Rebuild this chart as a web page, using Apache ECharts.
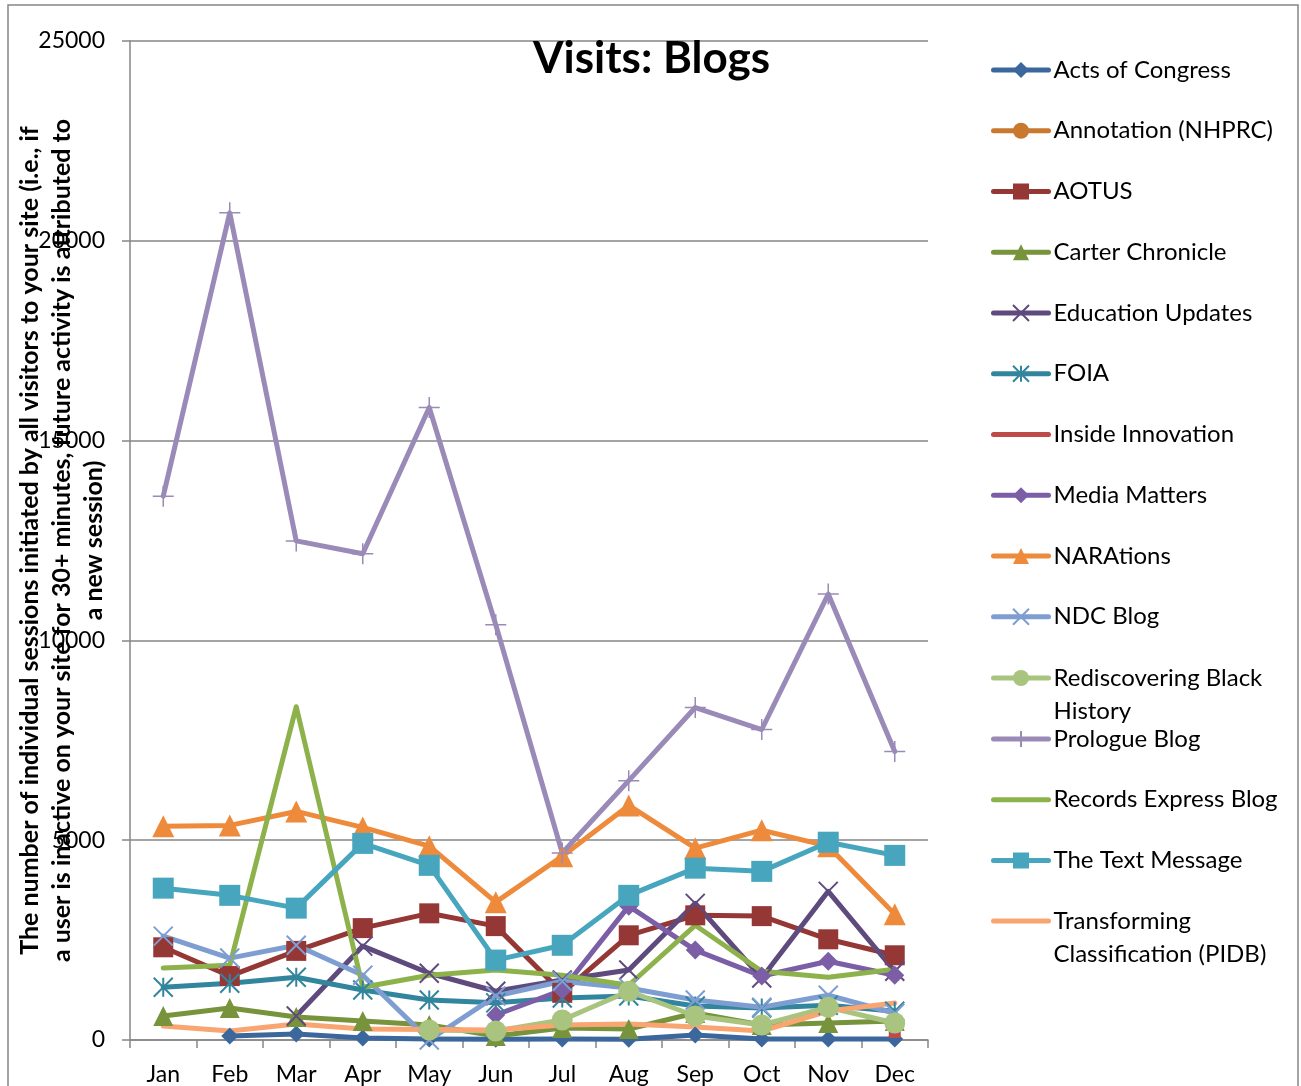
<!DOCTYPE html>
<html>
<head>
<meta charset="utf-8">
<script src="https://cdn.jsdelivr.net/npm/echarts@6/dist/echarts.min.js"></script>
<style>
html,body{margin:0;padding:0;background:#fff;}
#chart{width:1301px;height:1086px;}
</style>
</head>
<body>
<div id="chart"></div>
<script>
const months = ['Jan','Feb','Mar','Apr','May','Jun','Jul','Aug','Sep','Oct','Nov','Dec'];
const yTicks = [0, 5000, 10000, 15000, 20000, 25000];

const actsOfCongress = [null,100,150,50,25,20,25,20,125,25,25,25];
const annotationNHPRC = [null,null,null,null,null,null,null,null,null,null,null,null];
const aotus = [2320,1600,2230,2800,3170,2850,1180,2620,3120,3100,2520,2120];
const carterChronicle = [600,800,575,475,375,100,300,275,675,375,425,475];
const educationUpdates = [null,null,600,2350,1670,1220,1500,1750,3420,1550,3720,1720];
const foia = [1320,1420,1570,1250,1000,930,1050,1100,850,800,870,720];
const insideInnovation = [null,null,null,null,null,null,null,null,null,null,null,200];
const mediaMatters = [null,null,null,null,null,625,1250,3350,2250,1600,1970,1620];
const narations = [5350,5370,5720,5320,4850,3450,4600,5870,4800,5250,4850,3150];
const ndcBlog = [2600,2050,2370,1620,0,1100,1470,1300,1000,820,1120,670];
const rediscoveringBlackHistory = [null,null,null,null,250,225,500,1220,600,375,820,425];
const prologueBlog = [13610,20700,12490,12170,15830,10390,4680,6490,8320,7770,11160,7220];
const recordsExpressBlog = [1800,1870,8340,1320,1620,1750,1620,1370,2870,1720,1570,1770];
const theTextMessage = [3800,3620,3300,4920,4370,2000,2370,3620,4300,4220,4950,4620];
const transformingClassification = [350,225,400,275,260,250,375,400,325,225,725,925];

const seriesNames = ['Acts of Congress','Annotation (NHPRC)','AOTUS','Carter Chronicle','Education Updates','FOIA','Inside Innovation','Media Matters','NARAtions','NDC Blog','Rediscovering Black History','Prologue Blog','Records Express Blog','The Text Message','Transforming Classification (PIDB)'];
const seriesData = [actsOfCongress, annotationNHPRC, aotus, carterChronicle, educationUpdates, foia, insideInnovation, mediaMatters, narations, ndcBlog, rediscoveringBlackHistory, prologueBlog, recordsExpressBlog, theTextMessage, transformingClassification];
const legendLabels = {
  'Rediscovering Black History': '\nRediscovering Black\nHistory',
  'Transforming Classification (PIDB)': '\nTransforming\nClassification (PIDB)'
};

const colors = ['#3C679C','#C9792F','#953735','#77933C','#5E4A7D','#31859C','#BE4B48','#7B5EA6','#EE8A3B','#7E9ED2','#A8C47F','#9A8AB8','#8DB24C','#47A6BE','#F8A572'];

const X_PATH = 'path://M0,0L10,10M10,0L0,10';
const STAR_PATH = 'path://M5,0L5,10M0,0L10,10M10,0L0,10';
const PLUS_PATH = 'path://M5,0L5,10M0,5L10,5';
const symbols = [
  {symbol:'diamond', size:17},
  {symbol:'circle', size:19},
  {symbol:'rect', size:20},
  {symbol:'triangle', size:20},
  {symbol:X_PATH, size:19, stroke:2},
  {symbol:STAR_PATH, size:19, stroke:2},
  {symbol:'none', size:0, dec:true},
  {symbol:'diamond', size:19},
  {symbol:'triangle', size:22},
  {symbol:X_PATH, size:19, stroke:2},
  {symbol:'circle', size:21},
  {symbol:PLUS_PATH, size:21, stroke:1.5},
  {symbol:'none', size:0},
  {symbol:'rect', size:21},
  {symbol:'none', size:0}
];

const series = seriesNames.map((name, i) => {
  const s = symbols[i];
  let data = seriesData[i];
  if (s.dec) {
    data = data.map(v => v == null ? null : {value: v, symbol: 'rect', symbolSize: 12});
  }
  const itemStyle = {color: colors[i]};
  if (s.stroke) { itemStyle.borderColor = colors[i]; itemStyle.borderWidth = s.stroke; }
  else { itemStyle.borderWidth = 0; }
  return {
    name, type: 'line', data,
    symbol: s.symbol, symbolSize: s.size, showSymbol: true,
    connectNulls: false,
    lineStyle: {color: colors[i], width: 5, cap: 'round', join: 'round'},
    itemStyle,
    emphasis: {disabled: true},
    animation: false
  };
});

function legendItem(name) {
  const i = seriesNames.indexOf(name);
  const s = symbols[i];
  const item = {name};
  if (s.symbol === 'none') item.itemStyle = {opacity: 0};
  return item;
}

const legendCommon = {
  orient: 'vertical',
  left: 991,
  padding: 0,
  itemWidth: 55,
  itemHeight: 20,
  itemGap: 27.75,
  selectedMode: false,
  lineStyle: {width: 5, cap: 'round'},
  textStyle: {fontFamily: 'Lato', fontSize: 24, color: '#000', lineHeight: 33, padding: [0,0,0,0]},
  formatter: name => legendLabels[name] || name
};

const chart = echarts.init(document.getElementById('chart'), null, {renderer: 'canvas'});
chart.setOption({
  animation: false,
  backgroundColor: '#fff',
  title: {
    text: 'Visits: Blogs',
    left: 533, top: 37,
    padding: 0,
    textStyle: {fontFamily: 'Lato', fontWeight: 'bold', fontSize: 44, color: '#000'}
  },
  graphic: [{
    type: 'rect', silent: true, z: -10,
    shape: {x: 8, y: 5, width: 1290, height: 1100},
    style: {fill: 'none', stroke: '#868686', lineWidth: 1.5}
  }],
  legend: [
    Object.assign({}, legendCommon, {top: 53.5, data: seriesNames.slice(0, 10).map(legendItem)}),
    Object.assign({}, legendCommon, {top: 628.5, data: seriesNames.slice(10, 11).map(legendItem)}),
    Object.assign({}, legendCommon, {top: 722.5, data: seriesNames.slice(11, 14).map(legendItem)}),
    Object.assign({}, legendCommon, {top: 871.5, data: seriesNames.slice(14).map(legendItem)})
  ],
  grid: {left: 130, right: 373, top: 41, bottom: 43, containLabel: false},
  xAxis: {
    type: 'category',
    data: months,
    boundaryGap: true,
    axisLine: {show: true, lineStyle: {color: '#868686', width: 1.5}},
    axisTick: {show: true, length: 8, inside: false, alignWithLabel: false, lineStyle: {color: '#868686', width: 1.5}},
    axisLabel: {interval: 0, margin: 23, fontFamily: 'Lato', fontSize: 23, color: '#000'},
    splitLine: {show: false}
  },
  yAxis: {
    type: 'value',
    min: yTicks[0], max: yTicks[yTicks.length - 1], interval: yTicks[1] - yTicks[0],
    name: 'The number of individual sessions initiated by all visitors to your site (i.e., if\na user is inactive on your site for 30+ minutes, future activity is attributed to\na new session)',
    nameLocation: 'middle',
    nameRotate: 90,
    nameGap: 20,
    nameMoveOverlap: false,
    nameTextStyle: {fontFamily: 'Lato', fontWeight: 'bold', fontSize: 25, color: '#000', lineHeight: 32, align: 'center'},
    axisLine: {show: true, lineStyle: {color: '#868686', width: 1.5}},
    axisTick: {show: true, length: 8, inside: false, lineStyle: {color: '#868686', width: 1.5}},
    axisLabel: {margin: 25, fontFamily: 'Lato', fontSize: 23, color: '#000', formatter: v => String(v)},
    splitLine: {show: true, lineStyle: {color: '#868686', width: 1.5}}
  },
  series
});
</script>
</body>
</html>
